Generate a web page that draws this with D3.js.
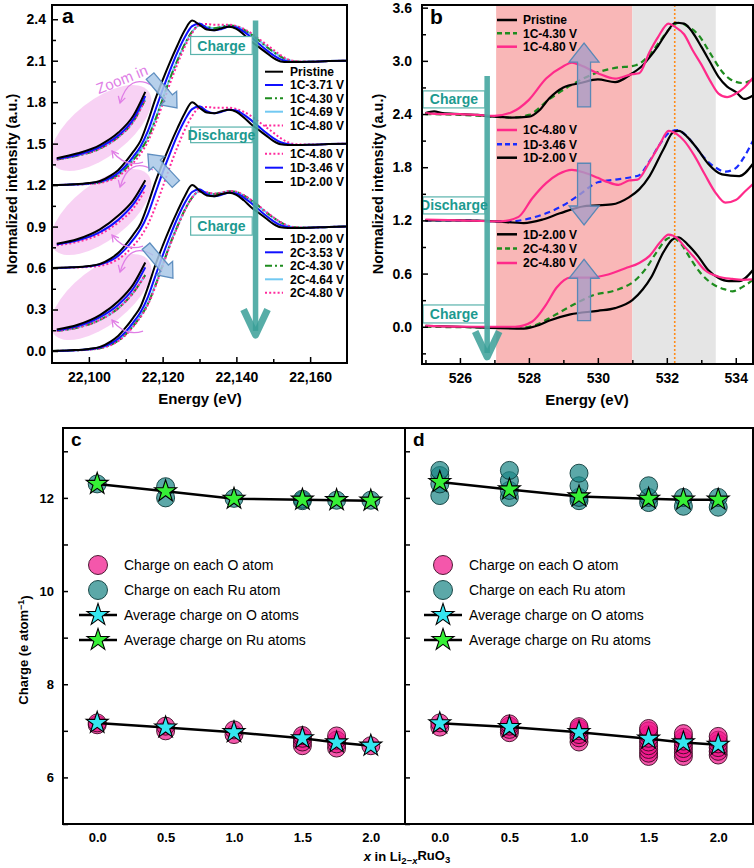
<!DOCTYPE html>
<html><head><meta charset="utf-8">
<script src="https://cdn.jsdelivr.net/npm/d3@7"></script>
<style>body{margin:0;background:#fff}svg{display:block}text{font-family:"Liberation Sans",Arial,Helvetica,sans-serif}</style>
</head><body><svg id="fig" width="754" height="868"></svg>
<script>
// ===================== DATA =====================
// Panel a: Ru K-edge XANES (relative to each group's offset)
const energyA = [22090,22095,22100,22103,22106,22108,22110,22112,22114,22116,22118,22120,22122,22124,22126,22128,22130,22132,22134,22136,22138,22140,22142,22144,22146,22148,22150,22152,22154,22156,22160,22165,22170];
const pristine = [0,0.005,0.015,0.03,0.07,0.11,0.17,0.24,0.32,0.46,0.62,0.76,0.89,1.01,1.12,1.19,1.16,1.125,1.12,1.135,1.145,1.13,1.09,1.04,1.0,0.96,0.92,0.895,0.89,0.89,0.892,0.897,0.9];
const c1_371 = [0,0.004,0.012,0.025,0.055,0.09,0.14,0.205,0.28,0.39,0.54,0.69,0.83,0.96,1.07,1.15,1.17,1.135,1.12,1.13,1.145,1.14,1.11,1.07,1.025,0.98,0.94,0.91,0.895,0.89,0.892,0.897,0.9];
const c1_430 = [0,0.003,0.01,0.02,0.045,0.075,0.12,0.18,0.25,0.34,0.47,0.62,0.77,0.9,1.02,1.11,1.155,1.145,1.135,1.145,1.155,1.15,1.125,1.09,1.05,1.005,0.965,0.93,0.905,0.895,0.893,0.897,0.9];
const c1_469 = [0,0.003,0.01,0.021,0.046,0.077,0.122,0.183,0.253,0.345,0.475,0.625,0.775,0.905,1.02,1.11,1.155,1.145,1.135,1.145,1.155,1.15,1.125,1.09,1.05,1.005,0.965,0.93,0.905,0.895,0.893,0.897,0.9];
const c1_480 = [0,0.003,0.008,0.016,0.038,0.065,0.105,0.16,0.225,0.315,0.44,0.585,0.735,0.875,1.0,1.1,1.16,1.165,1.16,1.16,1.16,1.15,1.13,1.1,1.06,1.02,0.98,0.94,0.91,0.897,0.893,0.897,0.9];
const d1_346 = [0,0.004,0.012,0.025,0.055,0.09,0.14,0.205,0.28,0.39,0.54,0.69,0.83,0.96,1.07,1.15,1.17,1.135,1.12,1.13,1.145,1.14,1.11,1.07,1.025,0.98,0.94,0.91,0.895,0.89,0.892,0.897,0.9];
const d1_200 = [0,0.005,0.015,0.03,0.07,0.11,0.17,0.24,0.32,0.46,0.62,0.76,0.89,1.01,1.12,1.2,1.16,1.125,1.12,1.135,1.145,1.13,1.09,1.04,1.0,0.96,0.92,0.895,0.89,0.89,0.892,0.897,0.9];
const c2_353 = [0,0.004,0.012,0.025,0.055,0.09,0.14,0.205,0.28,0.39,0.54,0.69,0.83,0.96,1.07,1.15,1.17,1.135,1.12,1.13,1.145,1.14,1.11,1.07,1.025,0.98,0.94,0.91,0.895,0.89,0.892,0.897,0.9];
const c2_430 = [0,0.003,0.01,0.02,0.045,0.075,0.12,0.18,0.25,0.34,0.47,0.62,0.77,0.9,1.02,1.11,1.155,1.145,1.135,1.145,1.155,1.15,1.125,1.09,1.05,1.005,0.965,0.93,0.905,0.895,0.893,0.897,0.9];
const c2_464 = [0,0.003,0.01,0.021,0.046,0.077,0.122,0.183,0.253,0.345,0.475,0.625,0.775,0.905,1.02,1.11,1.155,1.145,1.135,1.145,1.155,1.15,1.125,1.09,1.05,1.005,0.965,0.93,0.905,0.895,0.893,0.897,0.9];
const c2_480 = [0,0.003,0.009,0.019,0.043,0.072,0.116,0.175,0.244,0.334,0.462,0.612,0.762,0.895,1.015,1.108,1.155,1.148,1.138,1.147,1.157,1.152,1.128,1.093,1.053,1.008,0.968,0.932,0.906,0.895,0.893,0.897,0.9];
const groupOffsetsA = [1.2, 0.6, 0.0];
const legendA = [
  ["Pristine","1C-3.71 V","1C-4.30 V","1C-4.69 V","1C-4.80 V"],
  ["1C-4.80 V","1D-3.46 V","1D-2.00 V"],
  ["1D-2.00 V","2C-3.53 V","2C-4.30 V","2C-4.64 V","2C-4.80 V"]
];
// zoomed-in pre-edge insets
const insetE = [22091.3,22097,22103,22108,22112,22115.3];
const insetG1Black = [1.395,1.43,1.49,1.58,1.70,1.875];
const insetG1Blue = [1.39,1.42,1.475,1.56,1.675,1.845];
const insetG1Other = [1.385,1.414,1.464,1.548,1.658,1.82];
const insetG2Black = [0.775,0.81,0.88,0.98,1.09,1.235];
const insetG2Blue = [0.77,0.80,0.86,0.95,1.06,1.20];
const insetG2Pink = [0.765,0.79,0.845,0.93,1.03,1.165];
const insetG3Black = [0.155,0.19,0.26,0.36,0.48,0.64];
const insetG3Blue = [0.15,0.18,0.245,0.335,0.45,0.605];
const insetG3Other = [0.145,0.17,0.225,0.31,0.42,0.55];
const yTicksA = [0,0.3,0.6,0.9,1.2,1.5,1.8,2.1,2.4];
const xTicksA = [22100,22120,22140,22160];

// Panel b: O K-edge ([energy eV, intensity])
const bPristine = [[525,2.41],[525.25,2.43],[525.5,2.41],[526,2.40],[526.5,2.39],[527,2.37],[527.5,2.36],[528,2.37],[528.3,2.44],[528.6,2.58],[529,2.70],[529.5,2.75],[530,2.79],[530.5,2.76],[531,2.86],[531.25,2.93],[531.5,3.04],[531.75,3.17],[532,3.32],[532.25,3.43],[532.5,3.42],[532.75,3.32],[533,3.16],[533.25,2.99],[533.5,2.82],[533.75,2.71],[534,2.65],[534.25,2.57],[534.5,2.61]];
const b1C430 = [[525,2.40],[526,2.39],[527,2.37],[527.5,2.36],[528,2.39],[528.6,2.57],[529.2,2.72],[530,2.87],[530.5,2.92],[531.1,2.95],[531.5,3.07],[531.8,3.22],[532.1,3.37],[532.35,3.43],[532.6,3.39],[532.9,3.30],[533.3,3.06],[533.6,2.88],[533.85,2.79],[534.2,2.75],[534.5,2.79]];
const b1C480top = [[525,2.41],[525.5,2.40],[526,2.40],[526.5,2.39],[527,2.38],[527.5,2.42],[528,2.56],[528.5,2.80],[529,2.94],[529.25,2.98],[529.5,2.95],[530,2.86],[530.5,2.80],[531,2.85],[531.2,2.86],[531.5,3.10],[531.75,3.27],[532.05,3.42],[532.25,3.38],[532.5,3.30],[532.75,3.12],[533,2.96],[533.25,2.78],[533.5,2.63],[533.75,2.59],[534,2.63],[534.25,2.70],[534.5,2.81]];
const b1C480mid = [[525,1.21],[526,1.20],[527.2,1.19],[527.7,1.24],[528.1,1.45],[528.5,1.62],[528.85,1.72],[529.25,1.77],[529.6,1.74],[530,1.68],[530.3,1.63],[530.6,1.60],[530.9,1.65],[531.15,1.66],[531.5,1.86],[531.8,2.06],[532.05,2.21],[532.3,2.17],[532.5,2.10],[532.8,1.93],[533.1,1.72],[533.4,1.52],[533.7,1.40],[534,1.43],[534.25,1.52],[534.5,1.61]];
const b1D346 = [[525,1.20],[526,1.20],[527,1.19],[527.5,1.19],[528,1.22],[528.5,1.28],[529,1.37],[529.5,1.50],[530,1.63],[530.5,1.66],[531,1.69],[531.2,1.71],[531.5,1.87],[531.8,2.06],[532.1,2.20],[532.3,2.22],[532.5,2.18],[532.8,2.05],[533.1,1.90],[533.4,1.80],[533.7,1.75],[534,1.79],[534.25,1.92],[534.5,2.10]];
const b1D200mid = [[525,1.20],[526,1.20],[527,1.19],[527.85,1.17],[528.4,1.21],[528.9,1.28],[529.6,1.36],[530.4,1.38],[530.9,1.46],[531.2,1.55],[531.5,1.70],[531.9,2.00],[532.2,2.20],[532.35,2.21],[532.6,2.14],[532.9,2.00],[533.2,1.84],[533.6,1.72],[534.1,1.70],[534.5,1.84]];
const b1D200bot = [[525,0.01],[526,0.0],[526.7,-0.01],[527.85,-0.02],[528.3,0.02],[528.6,0.07],[529.2,0.14],[530,0.18],[530.5,0.21],[531,0.30],[531.3,0.42],[531.55,0.56],[531.9,0.84],[532.15,0.98],[532.33,1.01],[532.6,0.93],[532.9,0.80],[533.2,0.64],[533.5,0.55],[533.8,0.515],[534.1,0.515],[534.5,0.64]];
const b2C430 = [[525,0.0],[526,-0.005],[527.8,-0.01],[528.2,0.02],[528.7,0.12],[529.2,0.23],[529.9,0.36],[530.5,0.41],[531.1,0.53],[531.4,0.66],[531.7,0.84],[532.0,0.99],[532.15,1.01],[532.4,0.94],[532.7,0.76],[532.95,0.62],[533.3,0.49],[533.7,0.42],[533.9,0.40],[534.2,0.45],[534.5,0.53]];
const b2C480 = [[525,0.01],[526.5,0.0],[527.6,0.0],[528.1,0.06],[528.5,0.25],[528.8,0.44],[529.2,0.555],[529.8,0.555],[530.3,0.59],[530.8,0.66],[531.2,0.72],[531.5,0.80],[531.8,0.95],[532.05,1.04],[532.3,1.00],[532.5,0.91],[532.8,0.78],[533.1,0.64],[533.5,0.565],[533.9,0.54],[534.2,0.53],[534.5,0.535]];
const legendB = [["Pristine","1C-4.30 V","1C-4.80 V"],["1C-4.80 V","1D-3.46 V","1D-2.00 V"],["1D-2.00 V","2C-4.30 V","2C-4.80 V"]];
const yTicksB = [0,0.6,1.2,1.8,2.4,3.0,3.6];
const xTicksB = [526,528,530,532,534];
const regionRed = [527.05, 531.0];
const regionGray = [531.0, 533.42];
const peakLineB = 532.23;

// Panels c, d: Bader charges vs x in Li2-xRuO3
const xValsCD = [0, 0.5, 1.0, 1.5, 1.75, 2.0];
const cOatoms = [[7.13,7.17],[7.0,7.1],[6.92,7.02],[6.68,6.76,6.84,6.9],[6.63,6.72,6.8,6.89],[6.68]];
const cRuAtoms = [[12.3],[12.0,12.24],[11.99],[11.94,11.97],[11.95],[11.95]];
const cOavg = [7.17,7.07,6.97,6.84,6.75,6.68];
const cRuAvg = [12.3,12.14,11.98,11.96,11.95,11.94];
const dOatoms = [[7.08,7.17],[6.96,7.03,7.1,7.15],[6.76,6.85,6.92,7.0,7.05,7.09],[6.45,6.52,6.6,6.68,6.76,6.84,6.92,7.0,7.05],[6.45,6.53,6.62,6.7,6.78,6.86,6.94],[6.48,6.56,6.64,6.72,6.8,6.88]];
const dRuAtoms = [[12.05,12.3,12.48,12.59],[12.01,12.16,12.37,12.59],[11.94,12.01,12.26,12.53],[11.9,12.01,12.26],[11.82,12.01],[11.8,12.01]];
const dOavg = [7.16,7.08,6.97,6.83,6.75,6.7];
const dRuAvg = [12.34,12.18,12.03,11.98,11.96,11.96];
const legendCD = ["Charge on each O atom","Charge on each Ru atom","Average charge on O atoms","Average charge on Ru atoms"];
const yTicksCD = [6,8,10,12];
const xTicksCD = [0,0.5,1.0,1.5,2.0];

// ===================== DRAW =====================
const svg = d3.select("#fig");
const BOLD = "bold 14px 'Liberation Sans', Arial, sans-serif";
const COL = {black:"#000", blue:"#1010ff", green:"#1e8c1e", cyan:"#72c9f2", pink:"#ff2a9d", teal:"#2a9d95"};
const styleA = {
  black:{stroke:COL.black,dash:null},
  blue:{stroke:COL.blue,dash:null},
  green:{stroke:COL.green,dash:"7,3,2,3"},
  cyan:{stroke:COL.cyan,dash:null},
  pink:{stroke:COL.pink,dash:"2,2.2"}
};

function styleAxis(g, fontSize){
  g.select(".domain").remove();
  g.selectAll(".tick line").attr("stroke","#000").attr("stroke-width",1.5);
  g.selectAll(".tick text").style("font",`bold ${fontSize}px 'Liberation Sans', Arial, sans-serif`).attr("fill","#000");
}
function blockArrow(g,x1,y1,x2,y2,sw,hw,hl,fill,stroke,op){
  const dx=x2-x1, dy=y2-y1, L=Math.hypot(dx,dy), ux=dx/L, uy=dy/L, px=-uy, py=ux;
  const bx=x2-ux*hl, by=y2-uy*hl;
  const pts=[[x1+px*sw/2,y1+py*sw/2],[bx+px*sw/2,by+py*sw/2],[bx+px*hw/2,by+py*hw/2],[x2,y2],[bx-px*hw/2,by-py*hw/2],[bx-px*sw/2,by-py*sw/2],[x1-px*sw/2,y1-py*sw/2]];
  g.append("polygon").attr("points",pts.map(p=>p.join(",")).join(" ")).attr("fill",fill).attr("fill-opacity",op).attr("stroke",stroke).attr("stroke-width",1.3);
}

// ---------- Panel a ----------
const ax = d3.scaleLinear().domain([22090,22170]).range([52,347]);
const ay = d3.scaleLinear().domain([-0.087,2.503]).range([363,5]);
const gA = svg.append("g");
const defs = svg.append("defs");
defs.append("clipPath").attr("id","clipA").append("rect").attr("x",52).attr("y",5).attr("width",295).attr("height",358);
defs.append("clipPath").attr("id","clipB").append("rect").attr("x",422).attr("y",5).attr("width",331).attr("height",359);
defs.append("marker").attr("id","vhead").attr("viewBox","0 0 10 10").attr("refX",8).attr("refY",5)
  .attr("markerWidth",7).attr("markerHeight",7).attr("orient","auto-start-reverse")
  .append("path").attr("d","M1,1 L8,5 L1,9").attr("fill","none").attr("stroke","#e07ee6").attr("stroke-width",1.4);

const plotA = gA.append("g").attr("clip-path","url(#clipA)");
// ellipses
const ellE = 22103.3, ellV = [1.613,1.005,0.39];
ellV.forEach(v=>{
  plotA.append("ellipse").attr("cx",0).attr("cy",0).attr("rx",60).attr("ry",28)
    .attr("transform",`translate(${ax(ellE)},${ay(v)}) rotate(-38)`).attr("fill","#f7cdf3").attr("opacity",0.9);
});
const lineA = d3.line().x((d,i)=>ax(energyA[i])).y(d=>d).curve(d3.curveMonotoneX);
const groupsA = [
  [["cyan",c1_469],["green",c1_430],["pink",c1_480],["blue",c1_371],["black",pristine]],
  [["pink",c1_480],["blue",d1_346],["black",d1_200]],
  [["cyan",c2_464],["green",c2_430],["pink",c2_480],["blue",c2_353],["black",d1_200]]
];
groupsA.forEach((grp,gi)=>{
  grp.forEach(([k,vals])=>{
    const s=styleA[k];
    plotA.append("path").attr("d",lineA(vals.map(v=>ay(v+groupOffsetsA[gi]))))
      .attr("fill","none").attr("stroke",s.stroke).attr("stroke-width",2).attr("stroke-dasharray",s.dash);
  });
});
// insets
const insetLine = d3.line().x((d,i)=>ax(insetE[i])).y(d=>ay(d)).curve(d3.curveMonotoneX);
const insets = [
  [["cyan",insetG1Other],["green",insetG1Other],["pink",insetG1Other],["blue",insetG1Blue],["black",insetG1Black]],
  [["pink",insetG2Pink],["blue",insetG2Blue],["black",insetG2Black]],
  [["cyan",insetG3Other],["green",insetG3Other],["pink",insetG3Other],["blue",insetG3Blue],["black",insetG3Black]]
];
insets.forEach(grp=>grp.forEach(([k,vals])=>{
  const s=styleA[k];
  plotA.append("path").attr("d",insetLine(vals)).attr("fill","none").attr("stroke",s.stroke).attr("stroke-width",2).attr("stroke-dasharray",s.dash);
}));
// violet curved arrows
ellV.forEach(v=>{
  const cx=ax(ellE), cy=ay(v);
  plotA.append("path").attr("d",`M${cx+52},${cy-42} Q${cx+28},${cy-56} ${cx+19},${cy-25}`)
    .attr("fill","none").attr("stroke","#e07ee6").attr("stroke-width",1.3).attr("marker-end","url(#vhead)");
  plotA.append("path").attr("d",`M${cx+42},${cy+34} Q${cx+24},${cy+40} ${cx+11},${cy+23}`)
    .attr("fill","none").attr("stroke","#e07ee6").attr("stroke-width",1.3).attr("marker-end","url(#vhead)");
});
gA.append("text").attr("transform",`translate(${ax(22109.5)},${ay(1.93)}) rotate(-22)`).attr("text-anchor","middle")
  .style("font","15px 'Liberation Sans', Arial, sans-serif").attr("fill","#e07ee6").text("Zoom in");
// blue diagonal arrows
const bArrows = [[22116.6,1.989,22123.9,1.758],[22123.6,1.208,22116.0,1.425],[22115.5,0.758,22122.8,0.527]];
bArrows.forEach(a=>blockArrow(gA,ax(a[0]),ay(a[1]),ax(a[2]),ay(a[3]),10,21,13,"#a9c8e8","#5f8fc0",0.85));
// teal arrow
const tA = {E:22145.2, top:2.39, base:0.30, tip:0.115};
gA.append("line").attr("x1",ax(tA.E)).attr("x2",ax(tA.E)).attr("y1",ay(tA.top)).attr("y2",ay(tA.tip)-4)
  .attr("stroke","#45a7a0").attr("stroke-width",5.5).attr("opacity",0.9);
gA.append("path").attr("d",`M${ax(tA.E)-12},${ay(tA.base)} L${ax(tA.E)},${ay(tA.tip)} L${ax(tA.E)+12},${ay(tA.base)}`)
  .attr("fill","none").attr("stroke","#3a9f98").attr("stroke-width",7).attr("stroke-linejoin","round").attr("opacity",0.85);
// boxes
const boxesA = [["Charge",2.275,2.145],["Discharge",1.62,1.507],["Charge",0.97,0.838]];
boxesA.forEach(([t,v1,v2])=>{
  const x1=ax(22127.6), x2=ax(22144.3);
  gA.append("rect").attr("x",x1).attr("y",ay(v1)).attr("width",x2-x1).attr("height",ay(v2)-ay(v1)).attr("fill","#fff").attr("stroke","#5ab3ac").attr("stroke-width",1.2);
  gA.append("text").attr("x",(x1+x2)/2).attr("y",(ay(v1)+ay(v2))/2).attr("dy","0.36em").attr("text-anchor","middle")
    .style("font","bold 14px 'Liberation Sans', Arial, sans-serif").attr("fill","#1c9a90").text(t);
});
// legends a
const legAy = [[71.7,85,98.3,111.7,125.5],[153.7,167.7,182],[239,252.3,265.7,279.3,292.7]];
const legAkeys = [["black","blue","green","cyan","pink"],["pink","blue","black"],["black","blue","green","cyan","pink"]];
legendA.forEach((labels,gi)=>labels.forEach((lab,i)=>{
  const y=legAy[gi][i], s=styleA[legAkeys[gi][i]];
  gA.append("line").attr("x1",265).attr("x2",283).attr("y1",y).attr("y2",y).attr("stroke",s.stroke).attr("stroke-width",2).attr("stroke-dasharray",s.dash);
  gA.append("text").attr("x",290).attr("y",y).attr("dy","0.36em").style("font","bold 12px 'Liberation Sans', Arial, sans-serif").text(lab);
}));
// axes a
gA.append("g").attr("transform","translate(0,363)").call(d3.axisBottom(ax).tickValues(xTicksA).tickSize(-6).tickPadding(9).tickFormat(d3.format(","))).call(g=>styleAxis(g,14));
gA.append("g").attr("transform","translate(0,363)").call(d3.axisBottom(ax).tickValues([22110,22130,22150]).tickSize(-4).tickFormat("")).call(g=>styleAxis(g,14));
gA.append("g").attr("transform","translate(52,0)").call(d3.axisLeft(ay).tickValues(yTicksA).tickSize(-6).tickPadding(6).tickFormat(d3.format(".1f"))).call(g=>styleAxis(g,14));
gA.append("g").attr("transform","translate(52,0)").call(d3.axisLeft(ay).tickValues(yTicksA.slice(0,-1).map(v=>v+0.15)).tickSize(-4).tickFormat("")).call(g=>styleAxis(g,14));
gA.append("rect").attr("x",52).attr("y",5).attr("width",295).attr("height",358).attr("fill","none").attr("stroke","#000").attr("stroke-width",2);
gA.append("text").attr("x",62).attr("y",23).style("font","bold 21px 'Liberation Sans', Arial, sans-serif").text("a");
gA.append("text").attr("x",200).attr("y",404).attr("text-anchor","middle").style("font","bold 15px 'Liberation Sans', Arial, sans-serif").text("Energy (eV)");
gA.append("text").attr("transform","translate(17,184) rotate(-90)").attr("text-anchor","middle").style("font","bold 14.5px 'Liberation Sans', Arial, sans-serif").text("Normalized intensity (a.u.)");

// ---------- Panel b ----------
const bx = d3.scaleLinear().domain([524.9,534.5]).range([422,753]);
const by = d3.scaleLinear().domain([-0.42,3.63]).range([364,5]);
const gB = svg.append("g");
const plotB = gB.append("g").attr("clip-path","url(#clipB)");
plotB.append("rect").attr("x",bx(regionRed[0])).attr("y",5).attr("width",bx(regionRed[1])-bx(regionRed[0])).attr("height",359).attr("fill","#f9b7b7");
plotB.append("rect").attr("x",bx(regionGray[0])).attr("y",5).attr("width",bx(regionGray[1])-bx(regionGray[0])).attr("height",359).attr("fill","#e5e5e5");
plotB.append("line").attr("x1",bx(peakLineB)).attr("x2",bx(peakLineB)).attr("y1",5).attr("y2",364).attr("stroke","#ff8c1a").attr("stroke-width",1.6).attr("stroke-dasharray","2,2");
const lineB = d3.line().x(d=>bx(d[0])).y(d=>by(d[1])).curve(d3.curveMonotoneX);
const seriesB = [
  [b1C430,"#1e8c1e","6,4"],[bPristine,"#000",null],[b1C480top,"#ff2a8a",null],
  [b1D346,"#1a2cff","6,4"],[b1D200mid,"#000",null],[b1C480mid,"#ff2a8a",null],
  [b2C430,"#1e8c1e","6,4"],[b1D200bot,"#000",null],[b2C480,"#ff2a8a",null]
];
seriesB.forEach(([d,c,da])=>plotB.append("path").attr("d",lineB(d)).attr("fill","none").attr("stroke",c).attr("stroke-width",2.2).attr("stroke-dasharray",da));
// purple arrows
const pE = 529.6;
[[2.48,3.20],[1.845,1.148],[0.069,0.762]].forEach(([v1,v2])=>blockArrow(gB,bx(pE),by(v1),bx(pE),by(v2),13,30,19,"#a99cc6","#5a88b6",0.8));
// teal arrow b
const tB = {E:526.79, top:2.83, base:-0.054, tip:-0.34};
gB.append("line").attr("x1",bx(tB.E)).attr("x2",bx(tB.E)).attr("y1",by(tB.top)).attr("y2",by(tB.tip)-4).attr("stroke","#45a7a0").attr("stroke-width",5.5).attr("opacity",0.9);
gB.append("path").attr("d",`M${bx(tB.E)-12},${by(tB.base)} L${bx(tB.E)},${by(tB.tip)} L${bx(tB.E)+12},${by(tB.base)}`)
  .attr("fill","none").attr("stroke","#3a9f98").attr("stroke-width",7).attr("stroke-linejoin","round").attr("opacity",0.85);
const boxesB = [["Charge",2.661,2.469],["Discharge",1.465,1.273],["Charge",0.246,0.043]];
boxesB.forEach(([t,v1,v2])=>{
  const x1=bx(524.93), x2=bx(526.72);
  gB.append("rect").attr("x",x1).attr("y",by(v1)).attr("width",x2-x1).attr("height",by(v2)-by(v1)).attr("fill","#fff").attr("stroke","#5ab3ac").attr("stroke-width",1.2);
  gB.append("text").attr("x",(x1+x2)/2).attr("y",(by(v1)+by(v2))/2).attr("dy","0.36em").attr("text-anchor","middle")
    .style("font","bold 14px 'Liberation Sans', Arial, sans-serif").attr("fill","#1c9a90").text(t);
});
const legBy = [[20,33.3,46.7],[130,144.3,157.7],[234.3,248.6,263]];
const legBsty = [[["#000",null],["#1e8c1e","5,3"],["#ff2a8a",null]],[["#ff2a8a",null],["#1a2cff","5,3"],["#000",null]],[["#000",null],["#1e8c1e","5,3"],["#ff2a8a",null]]];
legendB.forEach((labels,gi)=>labels.forEach((lab,i)=>{
  const y=legBy[gi][i], [c,da]=legBsty[gi][i];
  gB.append("line").attr("x1",497).attr("x2",517).attr("y1",y).attr("y2",y).attr("stroke",c).attr("stroke-width",2.5).attr("stroke-dasharray",da);
  gB.append("text").attr("x",523).attr("y",y).attr("dy","0.36em").style("font","bold 12px 'Liberation Sans', Arial, sans-serif").text(lab);
}));
gB.append("g").attr("transform","translate(0,364)").call(d3.axisBottom(bx).tickValues(xTicksB).tickSize(-6).tickPadding(9).tickFormat(d3.format("d"))).call(g=>styleAxis(g,14));
gB.append("g").attr("transform","translate(0,364)").call(d3.axisBottom(bx).tickValues([525,527,529,531,533]).tickSize(-4).tickFormat("")).call(g=>styleAxis(g,14));
gB.append("g").attr("transform","translate(422,0)").call(d3.axisLeft(by).tickValues(yTicksB).tickSize(-6).tickPadding(10).tickFormat(d3.format(".1f"))).call(g=>styleAxis(g,14));
gB.append("g").attr("transform","translate(422,0)").call(d3.axisLeft(by).tickValues([-0.3,0.3,0.9,1.5,2.1,2.7,3.3]).tickSize(-4).tickFormat("")).call(g=>styleAxis(g,14));
gB.append("rect").attr("x",422).attr("y",5).attr("width",331).attr("height",359).attr("fill","none").attr("stroke","#000").attr("stroke-width",2);
gB.append("text").attr("x",430).attr("y",24).style("font","bold 21px 'Liberation Sans', Arial, sans-serif").text("b");
gB.append("text").attr("x",587).attr("y",405).attr("text-anchor","middle").style("font","bold 15px 'Liberation Sans', Arial, sans-serif").text("Energy (eV)");
gB.append("text").attr("transform","translate(383,184) rotate(-90)").attr("text-anchor","middle").style("font","bold 14.5px 'Liberation Sans', Arial, sans-serif").text("Normalized intensity (a.u.)");

// ---------- Panels c, d ----------
const cyS = d3.scaleLinear().domain([5,13.5]).range([824,428]);
const panelsCD = [
  {x:d3.scaleLinear().domain([-0.25,2.25]).range([63,405]), O:cOatoms, Ru:cRuAtoms, Oavg:cOavg, RuAvg:cRuAvg, label:"c", legX:98},
  {x:d3.scaleLinear().domain([-0.25,2.25]).range([405,753]), O:dOatoms, Ru:dRuAtoms, Oavg:dOavg, RuAvg:dRuAvg, label:"d", legX:443}
];
const OFILL="#f0168a", RUFILL="#1d8787", STAR_O="#35e6f0", STAR_RU="#36f036";
const star = d3.symbol().type(d3.symbolStar).size(150);
const lineCD = d3.line();
panelsCD.forEach((p,pi)=>{
  const g = svg.append("g");
  const x0 = p.x.range()[0];
  // axes
  g.append("g").attr("transform",`translate(${x0},0)`).call(d3.axisLeft(cyS).tickValues([5,6,7,8,9,10,11,12,13]).tickSize(-5).tickPadding(9).tickFormat(d=>pi===0 && yTicksCD.includes(d)? d : "")).call(gg=>styleAxis(gg,13));
  g.append("g").attr("transform","translate(0,824)").call(d3.axisBottom(p.x).tickValues(xTicksCD).tickSize(0).tickPadding(9).tickFormat(d3.format(".1f"))).call(gg=>styleAxis(gg,13));
  // atoms
  p.O.forEach((vals,i)=>vals.forEach(v=>g.append("circle").attr("cx",p.x(xValsCD[i])).attr("cy",cyS(v)).attr("r",9).attr("fill",OFILL).attr("fill-opacity",0.72).attr("stroke","#3a0a22").attr("stroke-width",0.9)));
  p.Ru.forEach((vals,i)=>vals.forEach(v=>g.append("circle").attr("cx",p.x(xValsCD[i])).attr("cy",cyS(v)).attr("r",9).attr("fill",RUFILL).attr("fill-opacity",0.72).attr("stroke","#0c3a3a").attr("stroke-width",0.9)));
  // averages
  [[p.Oavg,STAR_O],[p.RuAvg,STAR_RU]].forEach(([avg,col])=>{
    g.append("path").attr("d",lineCD(avg.map((v,i)=>[p.x(xValsCD[i]),cyS(v)]))).attr("fill","none").attr("stroke","#000").attr("stroke-width",2.5);
    avg.forEach((v,i)=>g.append("path").attr("d",star).attr("transform",`translate(${p.x(xValsCD[i])},${cyS(v)})`).attr("fill",col).attr("stroke","#000").attr("stroke-width",1.1));
  });
  // legend
  const ly=[565,590,615,640];
  g.append("circle").attr("cx",p.legX).attr("cy",ly[0]).attr("r",9.5).attr("fill",OFILL).attr("fill-opacity",0.72).attr("stroke","#3a0a22").attr("stroke-width",0.9);
  g.append("circle").attr("cx",p.legX).attr("cy",ly[1]).attr("r",9.5).attr("fill",RUFILL).attr("fill-opacity",0.72).attr("stroke","#0c3a3a").attr("stroke-width",0.9);
  [[ly[2],STAR_O],[ly[3],STAR_RU]].forEach(([y,col])=>{
    g.append("line").attr("x1",p.legX-19).attr("x2",p.legX+19).attr("y1",y).attr("y2",y).attr("stroke","#000").attr("stroke-width",2.5);
    g.append("path").attr("d",star).attr("transform",`translate(${p.legX},${y})`).attr("fill",col).attr("stroke","#000").attr("stroke-width",1.1);
  });
  legendCD.forEach((t,i)=>g.append("text").attr("x",p.legX+26).attr("y",ly[i]).attr("dy","0.36em").style("font","14px 'Liberation Sans', Arial, sans-serif").text(t));
  g.append("text").attr("x",x0+8).attr("y",446).style("font","bold 19px 'Liberation Sans', Arial, sans-serif").text(p.label);
});
svg.append("rect").attr("x",63).attr("y",428).attr("width",690).attr("height",396).attr("fill","none").attr("stroke","#000").attr("stroke-width",2);
svg.append("line").attr("x1",405).attr("x2",405).attr("y1",428).attr("y2",824).attr("stroke","#000").attr("stroke-width",2);
// titles
const yt = svg.append("text").attr("transform","translate(28,650) rotate(-90)").attr("text-anchor","middle").style("font","bold 13px 'Liberation Sans', Arial, sans-serif");
yt.append("tspan").text("Charge (e atom");
yt.append("tspan").attr("dy","-0.45em").style("font-size","9px").text("\u22121");
yt.append("tspan").attr("dy","0.45em").text(")");
const xt = svg.append("text").attr("x",407).attr("y",861).attr("text-anchor","middle").style("font","bold 13px 'Liberation Sans', Arial, sans-serif");
xt.append("tspan").style("font-style","italic").text("x");
xt.append("tspan").text(" in Li");
xt.append("tspan").attr("dy","0.35em").style("font-size","9.5px").text("2\u2212");
xt.append("tspan").style("font-size","9.5px").style("font-style","italic").text("x");
xt.append("tspan").attr("dy","-0.35em").text("RuO");
xt.append("tspan").attr("dy","0.35em").style("font-size","9.5px").text("3");
</script></body></html>
